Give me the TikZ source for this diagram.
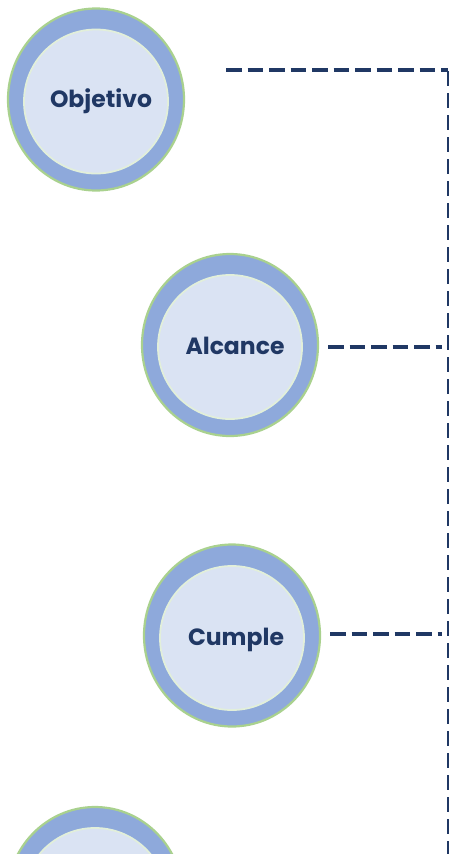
\documentclass[tikz,border=0pt]{standalone}
\usepackage{fontspec}
\setmainfont{Poppins}
\usetikzlibrary{shapes.geometric}
\definecolor{ring}{HTML}{8EA9DB}
\definecolor{core}{HTML}{DAE3F3}
\definecolor{edge}{HTML}{A9D18E}
\definecolor{coreedge}{HTML}{E2EFDA}
\definecolor{navy}{HTML}{203864}
\begin{document}
\begin{tikzpicture}[x=1pt,y=-1pt,
  outerring/.style={ellipse, draw=edge, line width=2.2pt, fill=ring, minimum width=176pt, minimum height=182pt, inner sep=0pt},
  innercore/.style={circle, draw=coreedge, line width=1.8pt, fill=core, minimum size=144pt, inner sep=0pt},
  lbl/.style={text=navy, font=\fontsize{23.5}{26}\selectfont\bfseries, inner sep=0pt},
  hdash/.style={draw=navy, line width=4.2pt, dash pattern=on 15.5pt off 6pt},
  vdash/.style={draw=navy, line width=2pt, dash pattern=on 15pt off 7pt}]
\useasboundingbox (0,0) rectangle (450,854);
% circles
\node[outerring] (o1) at (96,99.5) {};
\node[innercore] (i1) at (96,101.5) {};
\node[lbl] (t1) at (101,101) {Objetivo};
\node[outerring] (o2) at (230,345) {};
\node[innercore] (i2) at (230,347) {};
\node[lbl] (t2) at (235,346) {Alcance};
\node[outerring] (o3) at (232,635.5) {};
\node[innercore] (i3) at (232,638) {};
\node[lbl] (t3) at (236,640) {Cumple};
\node[outerring] (o4) at (95,898) {};
\node[innercore] (i4) at (95,900) {};
% connectors
\coordinate (s1) at (226,70);
\coordinate (c1) at (448,70);
\coordinate (bot) at (448,860);
\coordinate (s2) at (328,347);
\coordinate (j2) at (442,347);
\coordinate (s3) at (330,634);
\coordinate (j3) at (442,634);
\draw[hdash] (s1) -- (c1);
\draw[vdash] ([yshift=-1pt]c1) -- (bot);
\draw[hdash] (s2) -- (j2);
\draw[hdash] (s3) -- (j3);
\end{tikzpicture}
\end{document}
